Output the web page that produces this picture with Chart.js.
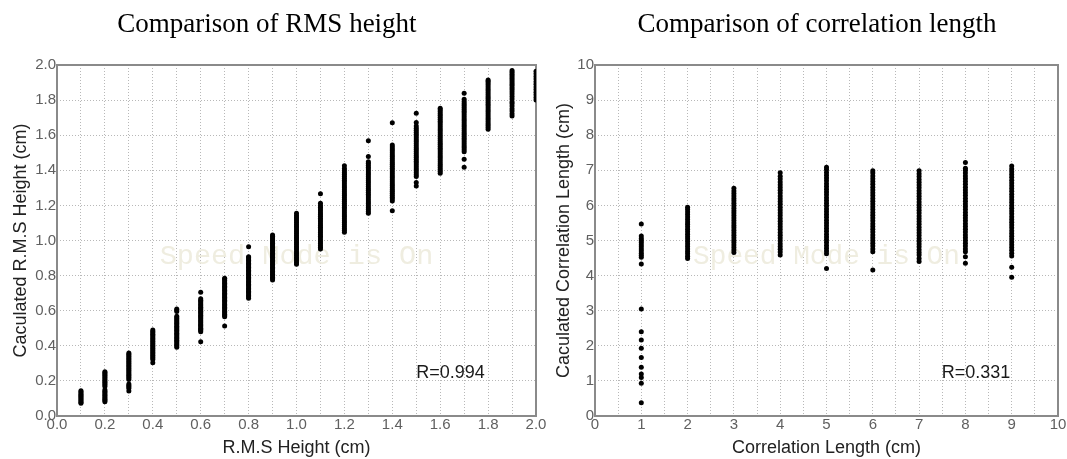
<!DOCTYPE html>
<html><head><meta charset="utf-8">
<script src="https://cdn.jsdelivr.net/npm/chart.js@4.4.0/dist/chart.umd.min.js"></script>
<style>
html,body{margin:0;padding:0;background:#fff;}
#wrap{position:relative;width:1067px;height:459px;overflow:hidden;background:#fff;}
.ttl{position:absolute;top:8px;width:500px;text-align:center;font-family:"Liberation Serif","Times New Roman",serif;font-size:27px;line-height:30px;color:#000;white-space:nowrap;}
canvas{position:absolute;top:0;}
</style></head>
<body><div id="wrap">
<canvas id="c2" width="527" height="459" style="left:540px"></canvas>
<canvas id="c1" width="552" height="459" style="left:0"></canvas>
<div class="ttl" style="left:17px">Comparison of RMS height</div>
<div class="ttl" style="left:567px">Comparison of correlation length</div>
</div>
<script>
// ---------- data: RMS height ----------
const rmsActual = [0.1,0.2,0.3,0.4,0.5,0.6,0.7,0.8,0.9,1.0,1.1,1.2,1.3,1.4,1.5,1.6,1.7,1.8,1.9,2.0];
const rmsCalc = [
  [0.072,0.079,0.085,0.091,0.098,0.104,0.111,0.117,0.124,0.131,0.138,0.144],
  [0.081,0.088,0.095,0.103,0.110,0.118,0.126,0.134,0.141,0.150,0.168,0.176,0.184,0.192,0.200,0.208,0.216,0.224,0.232,0.240,0.247,0.252],
  [0.142,0.158,0.166,0.174,0.182,0.208,0.216,0.224,0.232,0.240,0.248,0.256,0.264,0.272,0.280,0.288,0.296,0.304,0.312,0.320,0.328,0.336,0.344,0.352,0.359],
  [0.304,0.322,0.330,0.338,0.346,0.354,0.362,0.370,0.378,0.386,0.394,0.402,0.410,0.418,0.426,0.434,0.442,0.450,0.458,0.466,0.474,0.482,0.490],
  [0.392,0.400,0.408,0.416,0.424,0.432,0.440,0.448,0.456,0.464,0.472,0.480,0.488,0.496,0.504,0.512,0.520,0.528,0.536,0.544,0.552,0.560,0.568,0.596,0.604,0.610],
  [0.423,0.480,0.487,0.494,0.500,0.508,0.515,0.522,0.530,0.537,0.544,0.552,0.560,0.567,0.574,0.582,0.590,0.597,0.605,0.612,0.620,0.628,0.636,0.644,0.652,0.660,0.668,0.705],
  [0.513,0.566,0.573,0.580,0.588,0.596,0.604,0.612,0.620,0.628,0.636,0.644,0.652,0.660,0.668,0.676,0.684,0.692,0.700,0.708,0.716,0.724,0.732,0.740,0.748,0.756,0.764,0.772,0.780,0.785],
  [0.671,0.679,0.687,0.695,0.703,0.711,0.719,0.727,0.735,0.743,0.751,0.759,0.767,0.775,0.783,0.791,0.799,0.807,0.815,0.823,0.831,0.839,0.847,0.855,0.863,0.871,0.879,0.887,0.895,0.903,0.908,0.965],
  [0.775,0.783,0.791,0.800,0.808,0.816,0.824,0.832,0.840,0.848,0.856,0.864,0.872,0.880,0.888,0.896,0.904,0.912,0.920,0.928,0.936,0.944,0.952,0.960,0.968,0.976,0.984,0.992,1.000,1.008,1.016,1.024,1.031],
  [0.864,0.874,0.885,0.895,0.905,0.916,0.926,0.936,0.947,0.957,0.967,0.978,0.988,0.998,1.009,1.019,1.029,1.040,1.050,1.060,1.071,1.081,1.091,1.102,1.112,1.122,1.133,1.143,1.155],
  [0.952,0.962,0.972,0.983,0.993,1.003,1.014,1.024,1.034,1.045,1.055,1.065,1.076,1.086,1.096,1.107,1.117,1.127,1.138,1.148,1.158,1.169,1.179,1.189,1.200,1.212,1.267],
  [1.047,1.058,1.069,1.080,1.091,1.102,1.113,1.124,1.135,1.146,1.157,1.168,1.179,1.190,1.201,1.212,1.223,1.234,1.245,1.256,1.267,1.278,1.289,1.300,1.311,1.322,1.333,1.344,1.355,1.366,1.377,1.388,1.399,1.410,1.426],
  [1.155,1.165,1.176,1.187,1.198,1.209,1.220,1.231,1.242,1.253,1.264,1.275,1.286,1.297,1.308,1.319,1.330,1.341,1.352,1.363,1.374,1.385,1.396,1.407,1.418,1.429,1.440,1.449,1.478,1.569],
  [1.170,1.225,1.236,1.247,1.258,1.269,1.280,1.291,1.302,1.313,1.324,1.335,1.346,1.357,1.368,1.379,1.390,1.401,1.412,1.423,1.434,1.445,1.456,1.467,1.478,1.489,1.500,1.511,1.522,1.533,1.544,1.671],
  [1.310,1.330,1.364,1.375,1.386,1.397,1.408,1.419,1.430,1.441,1.452,1.463,1.474,1.485,1.496,1.507,1.518,1.529,1.540,1.551,1.562,1.573,1.584,1.595,1.606,1.617,1.628,1.639,1.652,1.673,1.725],
  [1.383,1.394,1.405,1.416,1.427,1.438,1.449,1.460,1.471,1.482,1.493,1.504,1.515,1.526,1.537,1.548,1.559,1.570,1.581,1.592,1.603,1.614,1.625,1.636,1.647,1.658,1.669,1.680,1.691,1.702,1.713,1.724,1.735,1.745,1.753],
  [1.417,1.463,1.506,1.517,1.528,1.539,1.550,1.561,1.572,1.583,1.594,1.605,1.616,1.627,1.638,1.649,1.660,1.671,1.682,1.693,1.704,1.715,1.726,1.737,1.748,1.759,1.770,1.781,1.792,1.805,1.839],
  [1.634,1.645,1.656,1.667,1.678,1.689,1.700,1.711,1.722,1.733,1.744,1.755,1.766,1.777,1.788,1.799,1.810,1.821,1.832,1.843,1.854,1.865,1.876,1.887,1.898,1.908,1.915],
  [1.709,1.722,1.738,1.751,1.767,1.780,1.790,1.806,1.820,1.835,1.848,1.860,1.872,1.884,1.895,1.906,1.917,1.928,1.938,1.948,1.958,1.968],
  [1.800,1.815,1.830,1.845,1.860,1.875,1.890,1.905,1.920,1.935,1.950,1.965]
];
const rmsXGrid = [0,0.1,0.2,0.3,0.4,0.5,0.6,0.7,0.8,0.9,1.0,1.1,1.2,1.3,1.4,1.5,1.6,1.7,1.8,1.9,2.0];
const rmsXTickLabels = ['0.0','0.2','0.4','0.6','0.8','1.0','1.2','1.4','1.6','1.8','2.0'];
const rmsYGrid = [0,0.2,0.4,0.6,0.8,1.0,1.2,1.4,1.6,1.8,2.0];
const rmsYTickLabels = ['0.0','0.2','0.4','0.6','0.8','1.0','1.2','1.4','1.6','1.8','2.0'];

// ---------- data: correlation length ----------
const corrActual = [1,2,3,4,5,6,7,8,9];
const corrCalc = [
  [0.38,0.93,1.10,1.20,1.39,1.67,1.93,2.165,2.40,3.05,4.33,4.52,4.58,4.64,4.70,4.76,4.82,4.88,4.94,5.00,5.06,5.13,5.47],
  [4.49,4.55,4.62,4.69,4.76,4.83,4.90,4.97,5.04,5.11,5.18,5.25,5.32,5.39,5.46,5.53,5.60,5.67,5.74,5.81,5.88,5.95],
  [4.66,4.73,4.80,4.87,4.94,5.01,5.08,5.15,5.22,5.29,5.36,5.43,5.50,5.57,5.64,5.71,5.78,5.85,5.92,5.99,6.06,6.13,6.20,6.27,6.34,6.41,6.49],
  [4.59,4.67,4.75,4.83,4.91,4.99,5.07,5.15,5.23,5.31,5.39,5.47,5.55,5.63,5.71,5.79,5.87,5.95,6.03,6.11,6.19,6.27,6.35,6.43,6.51,6.59,6.67,6.75,6.83,6.93],
  [4.20,4.62,4.70,4.78,4.86,4.94,5.02,5.10,5.18,5.26,5.34,5.42,5.50,5.58,5.66,5.74,5.82,5.90,5.98,6.06,6.14,6.22,6.30,6.38,6.46,6.54,6.62,6.70,6.78,6.86,6.94,7.02,7.09],
  [4.16,4.68,4.76,4.84,4.92,5.00,5.08,5.16,5.24,5.32,5.40,5.48,5.56,5.64,5.72,5.80,5.88,5.96,6.04,6.12,6.20,6.28,6.36,6.44,6.52,6.60,6.68,6.76,6.84,6.92,6.99],
  [4.40,4.49,4.59,4.66,4.74,4.82,4.90,4.98,5.06,5.14,5.22,5.30,5.38,5.46,5.54,5.62,5.70,5.78,5.86,5.94,6.02,6.10,6.18,6.26,6.34,6.42,6.50,6.58,6.66,6.74,6.82,6.90,6.99],
  [4.35,4.54,4.68,4.76,4.84,4.92,5.00,5.08,5.16,5.24,5.32,5.40,5.48,5.56,5.64,5.72,5.80,5.88,5.96,6.04,6.12,6.20,6.28,6.36,6.44,6.52,6.60,6.68,6.76,6.84,6.92,7.00,7.06,7.22],
  [3.95,4.24,4.56,4.64,4.72,4.80,4.88,4.96,5.04,5.12,5.20,5.28,5.36,5.44,5.52,5.60,5.68,5.76,5.84,5.92,6.00,6.08,6.16,6.24,6.32,6.40,6.48,6.56,6.64,6.72,6.80,6.88,6.96,7.04,7.12]
];
const corrXGrid = [0,0.5,1,1.5,2,2.5,3,3.5,4,4.5,5,5.5,6,6.5,7,7.5,8,8.5,9,9.5,10];
const corrXTickLabels = ['0','1','2','3','4','5','6','7','8','9','10'];
const corrYGrid = [0,1,2,3,4,5,6,7,8,9,10];
const corrYTickLabels = ['0','1','2','3','4','5','6','7','8','9','10'];

// ---------- helpers ----------
function toPoints(xs, ys) {
  const pts = [];
  xs.forEach((x, i) => ys[i].forEach(y => pts.push({x: x, y: y})));
  return pts;
}
function labelFor(labels, v) {
  const l = labels.find(s => Math.abs(parseFloat(s) - v) < 1e-6);
  return l === undefined ? '' : l;
}

const decor = {
  id: 'decor',
  beforeDatasetsDraw(chart, args, o) {
    const {ctx, chartArea: a} = chart;
    ctx.save();
    ctx.font = o.wmFont;
    ctx.fillStyle = o.wmColor;
    ctx.textAlign = 'center';
    ctx.textBaseline = 'middle';
    ctx.fillText(o.watermark, (a.left + a.right) / 2, (a.top + a.bottom) / 2 + o.wmDy);
    ctx.strokeStyle = o.frameColor;
    ctx.lineWidth = 2;
    ctx.strokeRect(a.left, a.top, a.right - a.left, a.bottom - a.top);
    ctx.restore();
  },
  afterDatasetsDraw(chart, args, o) {
    const {ctx, scales: {x, y}} = chart;
    ctx.save();
    ctx.font = o.rFont;
    ctx.fillStyle = o.rColor;
    ctx.textAlign = 'left';
    ctx.textBaseline = 'middle';
    ctx.fillText(o.rText, x.getPixelForValue(o.rX), y.getPixelForValue(o.rY));
    ctx.restore();
  }
};

const tickFont = {family: '"Liberation Sans", Arial, sans-serif', size: 15};
const titleFont = {family: '"Liberation Sans", Arial, sans-serif', size: 18};
const tickColor = '#606060';
const gridColor = '#b8b8b8';

function build(id, pts, cfg) {
  return new Chart(document.getElementById(id), {
    type: 'scatter',
    data: {datasets: [{
      data: pts,
      pointRadius: 2.5, pointHoverRadius: 2.5, pointBorderWidth: 0,
      pointBackgroundColor: '#000', backgroundColor: '#000', borderColor: '#000',
      clip: 0
    }]},
    options: {
      responsive: false, animation: false, devicePixelRatio: 1, events: [],
      layout: {padding: cfg.padding},
      plugins: {
        legend: {display: false}, tooltip: {enabled: false}, title: {display: false},
        decor: {
          watermark: 'Speed Mode is On', wmFont: cfg.wmFont, wmColor: '#efede0', wmDy: 16,
          frameColor: '#8a8a8a',
          rText: cfg.rText, rX: cfg.rX, rY: cfg.rY, rFont: '18px "Liberation Sans", Arial, sans-serif', rColor: '#1a1a1a'
        }
      },
      scales: {
        x: {
          type: 'linear', min: cfg.xMin, max: cfg.xMax,
          afterBuildTicks: s => { s.ticks = cfg.xGrid.map(v => ({value: v})); },
          afterFit: s => { s.height = 43; s.paddingLeft = 0; s.paddingRight = 0; },
          ticks: {autoSkip: false, maxRotation: 0, minRotation: 0, padding: 0, color: tickColor, font: tickFont,
                  callback: v => labelFor(cfg.xLabels, v)},
          grid: {color: gridColor, lineWidth: 1, drawTicks: false},
          border: {display: false, dash: [1, 2]},
          title: {display: true, text: cfg.xTitle, color: '#222', font: titleFont, padding: 0}
        },
        y: {
          type: 'linear', min: cfg.yMin, max: cfg.yMax,
          afterBuildTicks: s => { s.ticks = cfg.yGrid.map(v => ({value: v})); },
          afterFit: s => { s.width = cfg.yWidth; s.paddingTop = 0; s.paddingBottom = 0; },
          ticks: {autoSkip: false, padding: 1, color: tickColor, font: tickFont,
                  callback: v => labelFor(cfg.yLabels, v)},
          grid: {color: gridColor, lineWidth: 1, drawTicks: false},
          border: {display: false, dash: [1, 2]},
          title: {display: true, text: cfg.yTitle, color: '#222', font: titleFont, padding: 0}
        }
      }
    },
    plugins: [decor]
  });
}

build('c1', toPoints(rmsActual, rmsCalc), {
  padding: {left: 10, right: 16, top: 65, bottom: 0}, yWidth: 47,
  xMin: 0, xMax: 2, yMin: 0, yMax: 2,
  xGrid: rmsXGrid, xLabels: rmsXTickLabels, yGrid: rmsYGrid, yLabels: rmsYTickLabels,
  xTitle: 'R.M.S Height (cm)', yTitle: 'Caculated R.M.S Height (cm)',
  wmFont: '28.5px "Liberation Mono", "Courier New", monospace',
  rText: 'R=0.994', rX: 1.5, rY: 0.243
});

build('c2', toPoints(corrActual, corrCalc), {
  padding: {left: 13, right: 9, top: 65, bottom: 0}, yWidth: 42,
  xMin: 0, xMax: 10, yMin: 0, yMax: 10,
  xGrid: corrXGrid, xLabels: corrXTickLabels, yGrid: corrYGrid, yLabels: corrYTickLabels,
  xTitle: 'Correlation Length (cm)', yTitle: 'Caculated Correlation Length (cm)',
  wmFont: '27.8px "Liberation Mono", "Courier New", monospace',
  rText: 'R=0.331', rX: 7.49, rY: 1.22
});
</script>
</body></html>
